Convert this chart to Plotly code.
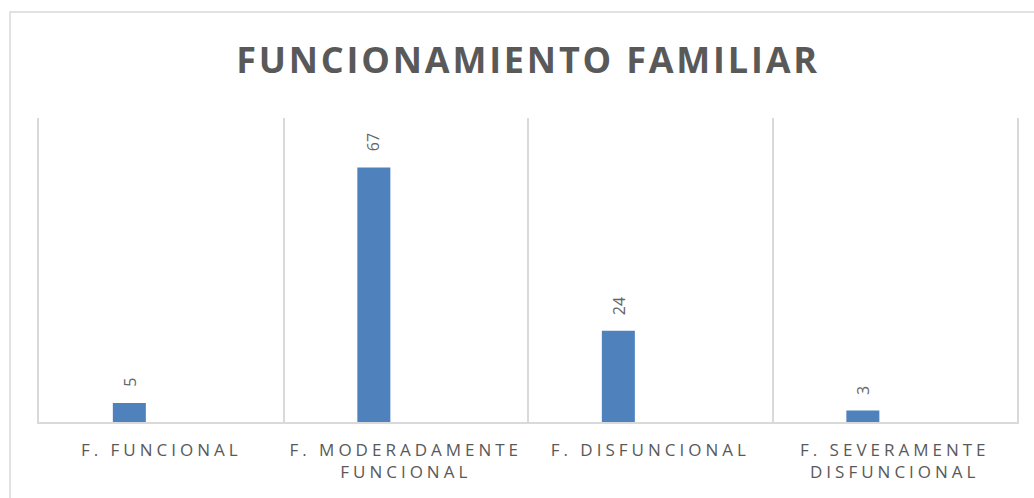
import plotly.graph_objects as go

categories = ["F. FUNCIONAL", "F. MODERADAMENTE<br>FUNCIONAL", "F. DISFUNCIONAL", "F. SEVERAMENTE<br>DISFUNCIONAL"]
values = [5, 67, 24, 3]
title_text = "FUNCIONAMIENTO FAMILIAR"

W, H = 1034, 498
L, R, T, B = 39, 17, 118, 76
plot_w = W - L - R
plot_h = H - T - B

BAR_W = 0.135
BAR_OFF = -0.198
GRAY = "#595959"
GRID = "#d9d9d9"
FONT = "Open Sans, Lato, sans-serif"

fig = go.Figure()
fig.add_trace(go.Bar(
    x=categories, y=values,
    width=BAR_W, offset=BAR_OFF,
    marker=dict(color="#4f81bd", line=dict(width=0)),
    hoverinfo="x+y",
))

for c, v in zip(categories, values):
    fig.add_annotation(
        x=c, y=v, text=str(v), showarrow=False, textangle=-90,
        xshift=(BAR_OFF + BAR_W / 2) * plot_w / 4, yshift=14,
        yanchor="bottom", xanchor="center",
        font=dict(family=FONT, size=16, color="#666666"),
    )

# outer chart border
fig.add_shape(type="rect", xref="paper", yref="paper",
              x0=(10 - L) / plot_w, x1=(W + 10 - L) / plot_w,
              y0=-(B + 10) / plot_h, y1=(H - B - 12) / plot_h,
              line=dict(color=GRID, width=1.5), layer="below")

fig.update_layout(
    width=W, height=H,
    margin=dict(l=L, r=R, t=T, b=B, pad=0),
    paper_bgcolor="white", plot_bgcolor="white",
    showlegend=False,
    title=dict(text="<b>" + title_text + "</b>", x=0.5, xref="paper",
               y=1 - 60 / H, yref="container", yanchor="middle",
               font=dict(family=FONT, size=36, color=GRAY)),
    xaxis=dict(type="category", range=[-0.5, 3.5], tickson="boundaries",
               showgrid=True, gridcolor=GRID, gridwidth=1.5,
               showline=True, linecolor=GRID, linewidth=1.5,
               ticks="", ticklabelstandoff=12,
               tickfont=dict(family=FONT, size=17, color=GRAY),
               fixedrange=True),
    yaxis=dict(range=[0, 80], showgrid=False, zeroline=False,
               showticklabels=False, ticks="",
               showline=True, mirror=True, linecolor=GRID, linewidth=1.5,
               fixedrange=True),
)

css = ("var s=document.createElement('style');"
       "s.textContent='html,body{margin:0;padding:0;overflow:hidden}"
       ".xtick text{letter-spacing:4px}.gtitle{letter-spacing:2.8px}';"
       "document.head.appendChild(s);")
fig.write_html("out.html", post_script=css, config={"displayModeBar": False})
